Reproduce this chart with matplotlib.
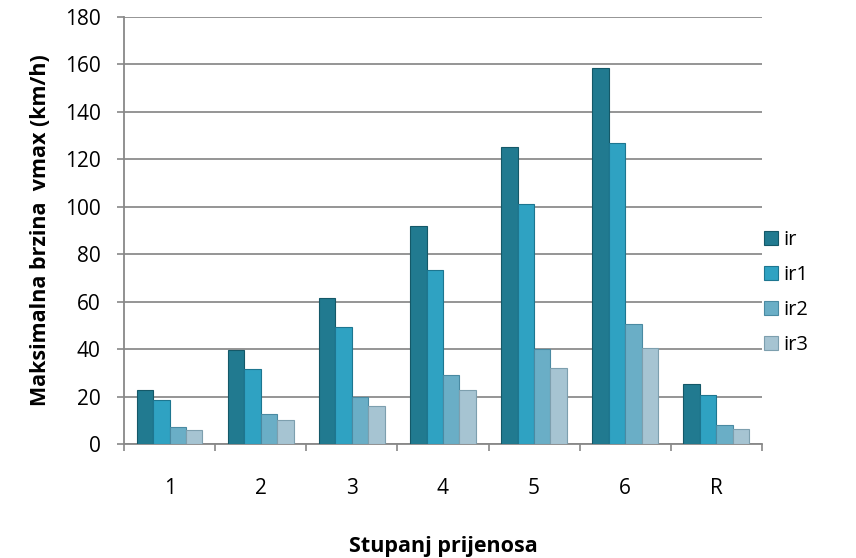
import numpy as np
import matplotlib.pyplot as plt

gears = ['1', '2', '3', '4', '5', '6', 'R']
ir = [22.8, 39.5, 61.5, 92, 125, 158.5, 25.5]
ir1 = [18.5, 31.5, 49.5, 73.5, 101, 127, 20.5]
ir2 = [7.2, 12.5, 20, 29, 40, 50.5, 8]
ir3 = [5.8, 10, 16, 23, 32, 40.5, 6.3]

series = [('ir', ir), ('ir1', ir1), ('ir2', ir2), ('ir3', ir3)]
colors = ['#217a90', '#2fa2c2', '#6aaec6', '#a6c4d2']
edges = ['#145868', '#1d7690', '#4a8aa2', '#7d9fae']

plt.rcParams['font.family'] = ['Open Sans', 'DejaVu Sans']

fig = plt.figure(figsize=(8.56, 5.58), dpi=100)
ax = fig.add_axes([0.145, 0.204, 0.745, 0.766])

x = np.arange(len(gears))
w = 0.18
for i, (name, vals) in enumerate(series):
    ax.bar(x + (i - 1.5) * w, vals, width=w, color=colors[i],
           edgecolor=edges[i], linewidth=0.8, label=name, zorder=3)

ax.set_ylim(0, 180)
ax.set_xlim(-0.5, len(gears) - 0.5)
ax.set_yticks(range(0, 181, 20))
ax.set_xticks(x)
ax.set_xticklabels(gears)
ax.set_xticks(np.arange(-0.5, len(gears)), minor=True)
ax.tick_params(axis='x', which='major', length=0, pad=24, labelsize=15)
ax.tick_params(axis='x', which='minor', length=5, color='#888888', width=1.2)
ax.tick_params(axis='y', length=5, color='#888888', width=1.2, labelsize=15, pad=12)
ax.yaxis.grid(True, color='#8c8c8c', linewidth=1.3, zorder=0)
for s in ['top', 'right']:
    ax.spines[s].set_visible(False)
for s in ['left', 'bottom']:
    ax.spines[s].set_color('#888888')
    ax.spines[s].set_linewidth(1.3)

ax.set_xlabel('Stupanj prijenosa', fontsize=15.5, fontweight='bold', labelpad=27)
ax.set_ylabel('Maksimalna brzina  vmax (km/h)', fontsize=15.5, fontweight='bold', labelpad=10)

ax.legend(loc='center left', bbox_to_anchor=(0.99, 0.355), frameon=False,
          fontsize=14.5, handlelength=0.7, handleheight=0.7, handletextpad=0.3,
          labelspacing=0.75, borderaxespad=0)

fig.savefig('out.png', dpi=100)
